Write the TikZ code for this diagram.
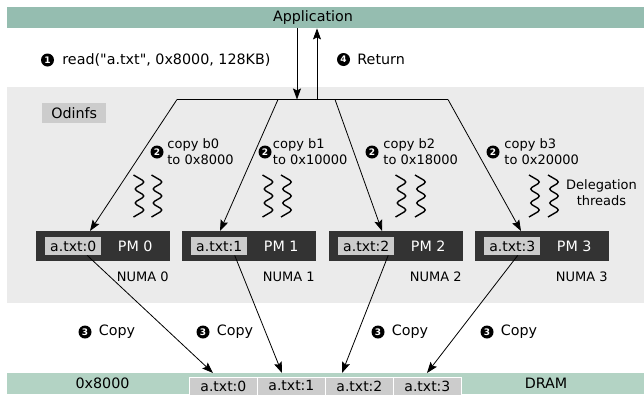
\documentclass[tikz,border=0pt]{standalone}
\usepackage{fontspec}
\setmainfont{DejaVu Sans}
\usepackage{xcolor}
\usepackage{tikz}
\usetikzlibrary{arrows.meta, positioning, calc}
\definecolor{appgreen}{HTML}{95BDB0}
\definecolor{dramgreen}{HTML}{B3D3C4}
\definecolor{fsgray}{HTML}{EBEBEB}
\definecolor{taggray}{HTML}{CCCCCC}
\definecolor{pmdark}{HTML}{333333}

\begin{document}
\begin{tikzpicture}[x=1pt, y=-1pt,
    bar/.style={rectangle, inner sep=0pt, anchor=north west, minimum width=637, minimum height=21},
    tag/.style={rectangle, fill=taggray, inner sep=0pt, minimum width=56, minimum height=18,
                font=\fontsize{14}{16}\selectfont},
    pm/.style={rectangle, fill=pmdark, inner sep=0pt, minimum width=134, minimum height=30, anchor=north west},
    num/.style={circle, fill=black, text=white, inner sep=0pt, minimum size=13,
                font=\fontsize{9}{9}\selectfont\bfseries},
    arr/.style={-{Stealth[length=11pt, width=8pt, inset=2pt]}, line width=0.8pt},
    lbl/.style={inner sep=0pt, font=\fontsize{14.3}{16}\selectfont},
    sub/.style={inner sep=0pt, align=left, font=\fontsize{13}{16}\selectfont},
    wave/.style={line width=1.4pt, rounded corners=3.5pt}
]
\useasboundingbox (0,0) rectangle (644,394);

\node[bar, fill=fsgray, minimum height=216] (odinfs) at (7,87) {};
\node[bar, fill=appgreen] (appbar) at (7,7) {};
\node[lbl] (app) at (313,17.5) {Application};
\node[bar, fill=dramgreen] (dram) at (7,373) {};
\node[lbl] (addr) at (102.5,383.5) {0x8000};
\node[lbl] (dramname) at (546,383.5) {DRAM};
\foreach \i in {0,...,3}
  \node[tag, draw=white, line width=0.8pt, minimum width=68, anchor=north west] (d\i) at (189+68*\i,376.5) {a.txt:\i};

\node[lbl, fill=taggray, minimum width=64, minimum height=20, anchor=north west] (fsname) at (42,103) {Odinfs};

\node[num] (n1) at (47.5,60) {1};
\node[lbl, right=8 of n1] (readcall) {read(\textquotedbl a.txt\textquotedbl, 0x8000, 128KB)};
\node[num] (n4) at (343.5,59.5) {4};
\node[lbl, right=7 of n4] (ret) {Return};

\coordinate (fd) at (297,99.5);
\coordinate (fu) at (317,99.5);
\draw[arr] (appbar.south -| fd) -- (fd);
\draw[arr] (fu) -- (appbar.south -| fu);

\foreach \i/\px in {0/36, 1/182, 2/329, 3/475} {
  \node[pm] (pm\i) at (\px,231) {};
  \node[tag, anchor=west] (t\i) at ([xshift=9]pm\i.west) {a.txt:\i};
  \node[lbl, text=white] (pmname\i) at ([xshift=32]pm\i.center) {PM \i};
  \node[sub] (numa\i) at ([xshift=39.5, yshift=-15]pm\i.south) {NUMA \i};
}

\foreach \i/\fx in {0/177, 1/278, 2/335, 3/448}
  \coordinate (f\i) at (\fx,99.5);
\draw[line width=0.8pt] (f0) -- (f3);

\foreach \i/\pin in {0/54, 1/38, 2/53, 3/46}
  \draw[arr] (f\i) -- ([xshift=\pin]pm\i.north west);

\foreach \i/\bx/\gap/\addr in {0/157/3.5/0x8000, 1/265/1/0x10000, 2/372/4.5/0x18000, 3/493/4.5/0x20000} {
  \node[num] (m\i) at (\bx,152) {2};
  \node[sub, right=\gap of m\i] (cp\i) {copy b\i\\to \addr};
}

\foreach \sx in {139.5, 157.5, 268.5, 287, 401.5, 421, 535, 554}
  \draw[wave] (\sx-6,175) -- (\sx+6,182) -- (\sx-6,189) -- (\sx+6,196)
              -- (\sx-6,203) -- (\sx+6,210) -- (\sx-6,217);
\node[sub, align=center] (deleg) at (601.5,193) {Delegation\\threads};

\foreach \i/\from/\to in {0/14/24, 1/15.5/25, 2/22/17, 3/5.5/34}
  \draw[arr] ([xshift=\from]t\i.south) -- ([xshift=\to, yshift=3.5]d\i.north west);

\foreach \i/\bx in {0/85, 1/203, 2/378, 3/487} {
  \node[num] (k\i) at (\bx,332) {3};
  \node[lbl, right=7 of k\i] (cpy\i) {Copy};
}
\end{tikzpicture}
\end{document}
